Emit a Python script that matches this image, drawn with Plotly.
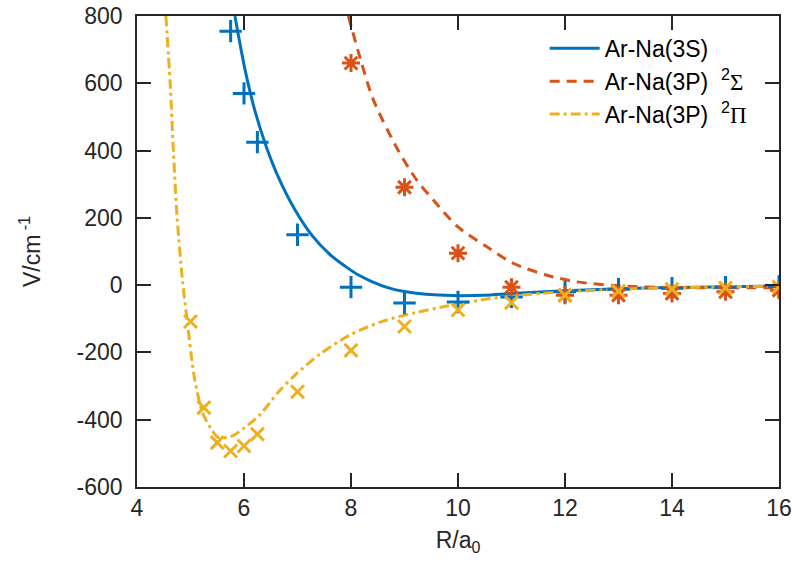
import plotly.graph_objects as go

# ---- data ----
# blue: Ar-Na(3S)
s_pts_x = [5.75, 6.0, 6.25, 7.0, 8.0, 9.0, 10.0, 11.0, 12.0, 13.0, 14.0, 15.0, 16.0]
s_pts_y = [755, 570, 425, 150, -6, -53, -50, -35, -20, -12, -9, -6, -4]
s_fit_x = [5.83, 6.02, 6.21, 6.42, 6.64, 6.95, 7.27, 7.64, 7.9, 8.14, 8.4, 8.7, 9.0, 9.4, 9.9, 10.5,
           11.0, 12.0, 13.0, 14.0, 15.0, 16.0]
s_fit_y = [800, 640, 515, 410, 322, 225, 148, 86, 55, 30, 10, -8, -19, -27, -31, -30,
           -25, -17, -11, -7, -5, -3]

# orange: Ar-Na(3P) 2Sigma
sig_pts_x = [8.0, 9.0, 10.0, 11.0, 12.0, 13.0, 14.0, 15.0, 16.0]
sig_pts_y = [660, 291, 95, -6, -30, -30, -25, -20, -15]
sig_fit_x = [7.95, 8.20, 8.42, 8.88, 9.23, 9.54, 10.0, 10.54, 11.03, 11.65, 12.21, 13.0, 14.0, 15.0, 16.0]
sig_fit_y = [800, 659, 550, 401, 312, 253, 173, 114, 65, 30, 10, -2, -7, -8, -8]

# yellow: Ar-Na(3P) 2Pi
pi_pts_x = [5.0, 5.25, 5.5, 5.75, 6.0, 6.25, 7.0, 8.0, 9.0, 10.0, 11.0, 12.0, 13.0, 14.0, 15.0, 16.0]
pi_pts_y = [-108, -364, -468, -493, -478, -443, -317, -194, -123, -74, -52, -30, -18, -12, -8, -5]
pi_fit_x = [4.54, 4.62, 4.68, 4.75, 4.85, 4.94, 5.01, 5.08, 5.23, 5.40, 5.52, 5.77, 5.99, 6.30,
            6.64, 6.95, 7.42, 7.98, 8.6, 9.2, 9.8, 10.4, 11.0, 12.0, 13.0, 14.0, 15.0, 16.0]
pi_fit_y = [800, 600, 400, 200, 15, -109, -203, -282, -381, -431, -453, -449, -426, -385,
            -318, -268, -205, -148, -107, -82, -62, -45, -32, -20, -12, -8, -5, -3]

x_ticks = [4, 6, 8, 10, 12, 14, 16]
y_ticks = [-600, -400, -200, 0, 200, 400, 600, 800]

SERIF = "Liberation Serif, Times New Roman, serif"
names = ["Ar-Na(3S)",
         "Ar-Na(3P)  <sup>2</sup><span style='font-family:%s'>Σ</span>" % SERIF,
         "Ar-Na(3P)  <sup>2</sup><span style='font-family:%s'>Π</span>" % SERIF]
colors = ["#0072BD", "#D95319", "#EDB120"]

FONT = "Liberation Sans, Arial, Helvetica, sans-serif"
TXT = "#262626"

fig = go.Figure()

# fitted curves (legend entries)
fig.add_trace(go.Scatter(x=s_fit_x, y=s_fit_y, mode="lines", name=names[0],
                         line=dict(color=colors[0], width=3, shape="spline", smoothing=0.8)))
fig.add_trace(go.Scatter(x=sig_fit_x, y=sig_fit_y, mode="lines", name=names[1],
                         line=dict(color=colors[1], width=3, dash="10px,7px", shape="spline", smoothing=0.8)))
fig.add_trace(go.Scatter(x=pi_fit_x, y=pi_fit_y, mode="lines", name=names[2],
                         line=dict(color=colors[2], width=3, dash="10px,4px,3px,4px", shape="spline", smoothing=0.8)))

# computed points
fig.add_trace(go.Scatter(x=s_pts_x, y=s_pts_y, mode="markers", showlegend=False,
                         marker=dict(symbol="cross-thin-open", size=16, color=colors[0],
                                     line=dict(color=colors[0], width=3))))
fig.add_trace(go.Scatter(x=sig_pts_x, y=sig_pts_y, mode="markers", showlegend=False,
                         marker=dict(symbol="asterisk-open", size=15, color=colors[1],
                                     line=dict(color=colors[1], width=3))))
fig.add_trace(go.Scatter(x=pi_pts_x, y=pi_pts_y, mode="markers", showlegend=False,
                         marker=dict(symbol="x-thin-open", size=13, color=colors[2],
                                     line=dict(color=colors[2], width=3))))

axis_common = dict(showgrid=False, zeroline=False, showline=True, mirror="ticks",
                   linecolor=TXT, linewidth=1.5, ticks="inside", ticklen=14,
                   tickwidth=1.5, tickcolor=TXT, automargin=False,
                   tickfont=dict(family=FONT, size=23, color=TXT))

fig.update_xaxes(range=[4, 16], tickvals=x_ticks, ticktext=[str(v) for v in x_ticks],
                 title=dict(text="R/a<sub>0</sub>", font=dict(family=FONT, size=23, color=TXT), standoff=12),
                 **axis_common)
fig.update_yaxes(range=[-600, 800], tickvals=y_ticks, ticktext=[str(v) for v in y_ticks],
                 ticklabelstandoff=8,
                 title=dict(text="V/cm<sup> -1</sup>", font=dict(family=FONT, size=23, color=TXT), standoff=30),
                 **axis_common)

fig.update_layout(
    width=792, height=572,
    margin=dict(l=137, r=13, t=16, b=85),
    plot_bgcolor="white", paper_bgcolor="white",
    font=dict(family=FONT, color=TXT),
    legend=dict(x=0.635, y=0.977, xanchor="left", yanchor="top",
                bgcolor="rgba(255,255,255,0)", borderwidth=0,
                font=dict(family=FONT, size=23, color="black"),
                itemwidth=50, tracegroupgap=0),
)

fig.write_html("out.html", config={"displayModeBar": False},
               post_script="document.body.style.margin='0';document.body.style.overflow='hidden';")
